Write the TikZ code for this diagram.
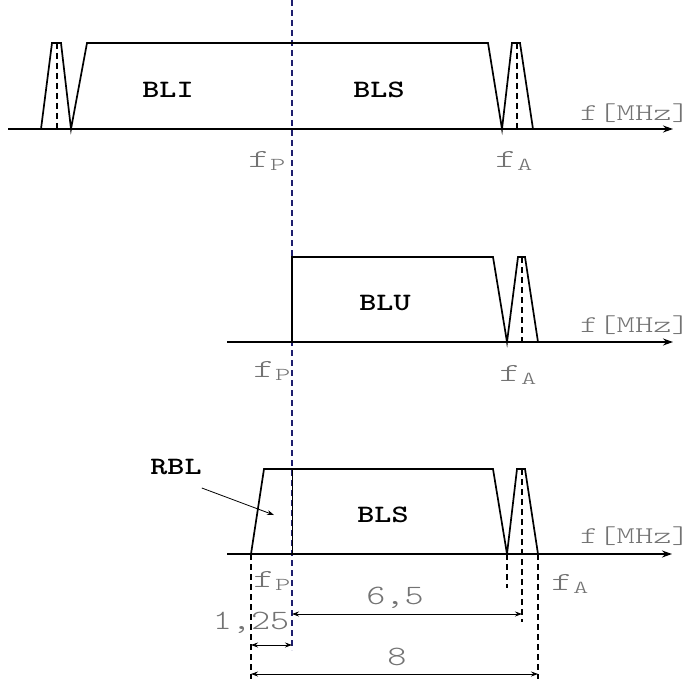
\documentclass[tikz,border=0pt]{standalone}
\usepackage{fontspec}
\newfontfamily\monof[FakeStretch=1.6]{lmmonolt10-regular.otf}
\newfontfamily\axisf[FakeStretch=1.45]{lmmonolt10-regular.otf}
\newfontfamily\numf[FakeStretch=1.3]{lmmonolt10-regular.otf}
\newfontfamily\bandf[FakeStretch=1.3]{lmmonolt10-bold.otf}
\usetikzlibrary{arrows.meta}
\definecolor{fpblue}{RGB}{30,30,110}
\tikzstyle{sig}=[line width=1.7pt,line join=miter]
\tikzstyle{axe}=[line width=1.5pt,-{Stealth[length=10pt,width=7pt]}]
\tikzstyle{cent}=[line width=1.5pt,dash pattern=on 6pt off 4pt]
\tikzstyle{lab}=[font=\axisf\fontsize{24}{24}\selectfont,text=black!55,inner sep=0pt]
\tikzstyle{freq}=[font=\monof\fontsize{26}{26}\selectfont,text=black!55,inner sep=0pt]
\tikzstyle{num}=[font=\numf\fontsize{28}{28}\selectfont,text=black!55,inner sep=0pt]
\tikzstyle{band}=[font=\bandf\fontsize{25}{25}\selectfont,inner sep=0pt]
\tikzstyle{dim}=[line width=0.8pt,{Stealth[length=7pt,width=5pt]}-{Stealth[length=7pt,width=5pt]}]

\begin{document}
\begin{tikzpicture}[x=1pt,y=-1pt]
\useasboundingbox (0,0) rectangle (692,679);
% carrier f_P
\draw[fpblue,line width=1.4pt,dash pattern=on 6pt off 4pt] (292,0) -- (292,650);

% top: BLI + BLS
\coordinate (ax1) at (8,129);
\coordinate (ax1e) at (673,129);
\draw[axe] (ax1) -- (ax1e);
\draw[sig] (41,129) -- (52,43) -- (61,43) -- (71,129) -- (87,43) -- (488,43) -- (502,129) -- (512,43) -- (520,43) -- (533,129);
\draw[cent] (57,43) -- (57,129);
\draw[cent] (517,43) -- (517,129);
\node[band] (bli) at (168,90) {BLI};
\node[band] (bls1) at (379,90) {BLS};
\node[lab,anchor=base east] (mhz1) at (690,121) {f[MHz]};
\node[freq] (fp1) at (267,161) {f\textsubscript{P}};
\node[freq] (fa1) at (514,161) {f\textsubscript{A}};

% middle: BLU
\coordinate (ax2) at (227,342);
\coordinate (ax2e) at (673,342);
\draw[axe] (ax2) -- (ax2e);
\draw[sig] (292,342) -- (292,257) -- (493,257) -- (507,342) -- (518,257) -- (525,257) -- (538,342);
\draw[cent] (522,257) -- (522,342);
\node[band] (blu) at (385,303) {BLU};
\node[lab,anchor=base east] (mhz2) at (690,332) {f[MHz]};
\node[freq] (fp2) at (272,371) {f\textsubscript{P}};
\node[freq] (fa2) at (518,375) {f\textsubscript{A}};

% bottom: BLS + RBL
\coordinate (ax3) at (227,554);
\coordinate (ax3e) at (672,554);
\draw[axe] (ax3) -- (ax3e);
\draw[sig] (251,554) -- (264,469) -- (493,469) -- (507,554) -- (517,469) -- (525,469) -- (538,554);
\draw[line width=0.8pt] (292,469) -- (292,554);
\draw[cent] (522,469) -- (522,622);
\draw[cent] (251,554) -- (251,679);
\draw[cent] (507,554) -- (507,588);
\draw[cent] (538,554) -- (538,679);
\node[band] (bls3) at (383,515) {BLS};
\node[band] (rbl) at (176,467) {RBL};
\coordinate (rblpt) at (274,515);
\draw[line width=0.8pt,-{Stealth[length=7pt,width=5pt]}] ([yshift=-13pt]rbl.south east) -- (rblpt);
\node[lab,anchor=base east] (mhz3) at (690,543) {f[MHz]};
\node[freq] (fp3) at (272,581) {f\textsubscript{P}};
\node[freq] (fa3) at (570,584) {f\textsubscript{A}};

% dimensions
\coordinate (d65a) at (292,614);
\coordinate (d65b) at (522,614);
\coordinate (d125a) at (251,645);
\coordinate (d125b) at (292,645);
\coordinate (d8a) at (251,674);
\coordinate (d8b) at (538,674);
\draw[dim] (d65a) -- (d65b);
\draw[dim] (d125a) -- (d125b);
\draw[dim] (d8a) -- (d8b);
\node[num] (l65) at (395,598) {6,5};
\node[num] (l125) at (251,623) {1,25};
\node[num] (l8) at (397,657) {8};
\end{tikzpicture}
\end{document}
